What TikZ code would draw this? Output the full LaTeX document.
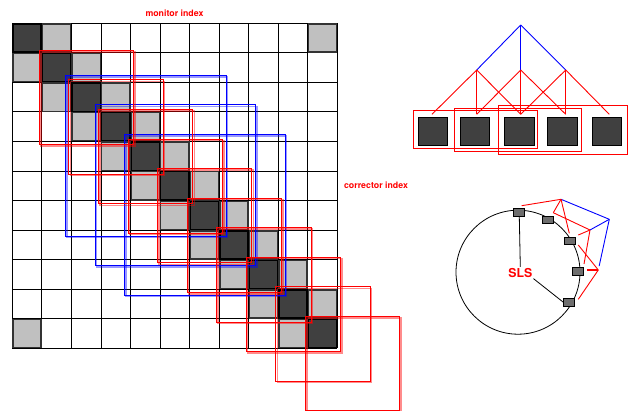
\documentclass[tikz,border=0pt]{standalone}
\usepackage{fontspec}
\setmainfont{TeX Gyre Heros}
\usetikzlibrary{calc}
\definecolor{darkfill}{HTML}{404040}
\definecolor{lightfill}{HTML}{C0C0C0}
\definecolor{ringbox}{HTML}{6E6E6E}
\begin{document}
\begin{tikzpicture}[x=1pt,y=-1pt,
  gridline/.style={draw=black, line width=0.9pt},
  darkcell/.style={fill=darkfill, draw=black, line width=1.4pt},
  lightcell/.style={fill=lightfill, draw=black!80, line width=1.4pt},
  redsq/.style={draw=red, line width=0.9pt},
  redsqb/.style={draw=red, opacity=0.45, line width=1.4pt},
  bluesq/.style={draw=blue, line width=0.9pt},
  bluesqb/.style={draw=blue, opacity=0.4, line width=1.4pt},
  lbl/.style={text=red, font=\bfseries\fontsize{8.8}{10}\selectfont, inner sep=0pt},
  bigl/.style={text=red, font=\bfseries\fontsize{12.3}{14}\selectfont, inner sep=1pt},
  tbox/.style={fill=darkfill, draw=black, line width=1pt, minimum width=29.4pt, minimum height=28.4pt, inner sep=0pt},
  rbox/.style={fill=ringbox, draw=black, line width=0.8pt, minimum width=11pt, minimum height=7.8pt, inner sep=0pt},
  redline/.style={draw=red, line width=0.9pt},
  blueline/.style={draw=blue, line width=0.9pt},
  blackline/.style={draw=black, line width=0.8pt}
]
\useasboundingbox (0,0) rectangle (628,411);
\fill[white] (0,0) rectangle (628,411);

\def\gx{12.3}
\def\gy{23.3}
\def\cs{29.55}

% grid lines
\foreach \k in {0,...,11} {
  \draw[gridline] ({\gx+\k*\cs},\gy) -- ({\gx+\k*\cs},{\gy+11*\cs});
  \draw[gridline] (\gx,{\gy+\k*\cs}) -- ({\gx+11*\cs},{\gy+\k*\cs});
}

% light cells
\foreach \i in {0,...,9} {
  \draw[lightcell] ({\gx+(\i+1)*\cs+0.7},{\gy+\i*\cs+0.7}) rectangle ++({\cs-1.4},{\cs-1.4});
  \draw[lightcell] ({\gx+\i*\cs+0.7},{\gy+(\i+1)*\cs+0.7}) rectangle ++({\cs-1.4},{\cs-1.4});
}
\draw[lightcell] ({\gx+10*\cs+0.7},{\gy+0.7}) rectangle ++({\cs-1.4},{\cs-1.4});
\draw[lightcell] ({\gx+0.7},{\gy+10*\cs+0.7}) rectangle ++({\cs-1.4},{\cs-1.4});
% dark cells
\foreach \i in {0,...,10} {
  \draw[darkcell] ({\gx+\i*\cs+0.7},{\gy+\i*\cs+0.7}) rectangle ++({\cs-1.4},{\cs-1.4});
}

% blue squares
\foreach \i in {2,3,4} {
  \draw[bluesqb] ({\gx+\i*\cs-4.5},{\gy+\i*\cs-5.5}) rectangle ++(160.7,160.7);
  \draw[bluesq] ({\gx+\i*\cs-6},{\gy+\i*\cs-7}) rectangle ++(160.7,160.7);
}
% red squares
\foreach \i in {1,...,10} {
  \draw[redsqb] ({\gx+\i*\cs-1},{\gy+\i*\cs-1}) rectangle ++(94.3,94.3);
  \draw[redsq] ({\gx+\i*\cs-2.5},{\gy+\i*\cs-2.5}) rectangle ++(94.3,94.3);
}

% labels
\node[lbl] (mon) at (174.5,13.3) {monitor index};
\node[lbl] (cor) at (376,185.3) {corrector index};

% tree (top right)
\coordinate (T) at (520.7,25);
\coordinate (m1) at (476.7,70);
\coordinate (m2) at (520.7,70);
\coordinate (m3) at (565.7,70);
\coordinate (p1) at (432,114.3);
\coordinate (p2) at (476.7,114.3);
\coordinate (p3) at (520.7,114.3);
\coordinate (p4) at (565.7,114.3);
\coordinate (p5) at (609.3,114.3);
\node[tbox] (b1) at (433,131.5) {};
\node[tbox] (b2) at (475,131.5) {};
\node[tbox] (b3) at (519.3,131.5) {};
\node[tbox] (b4) at (562.5,131.5) {};
\node[tbox] (b5) at (607,131.5) {};
\draw[redline] (413.3,110.7) rectangle (537.7,148.3);
\draw[redline] (454,108.3) rectangle (581.7,151.7);
\draw[redline] (498.7,105.3) rectangle (627.2,154.3);
\draw[blueline] (T) -- (m1);
\draw[blueline] (T) -- (m2);
\draw[blueline] (T) -- (m3);
\foreach \a/\b in {m1/p1,m1/p2,m1/p3,m2/p2,m2/p3,m2/p4,m3/p3,m3/p4,m3/p5} {
  \draw[redline] (\a) -- (\b);
}

% ring
\node[circle, draw=black, line width=0.8pt, minimum size=124pt, inner sep=0pt] (ring) at (518,272.2) {};
\node[rbox] (r1) at (519.3,212.7) {};
\node[rbox] (r2) at (548.3,220) {};
\node[rbox] (r3) at (570,241) {};
\node[rbox] (r4) at (578.3,271) {};
\node[rbox] (r5) at (569.3,302.3) {};
\node[bigl] (sls) at (520.3,272.8) {SLS};
\draw[blackline] (r1.south) -- (sls.north);
\draw[blackline] (sls.south east) -- (r5.west);

\coordinate (A) at (561,199.3);
\coordinate (B) at (590,230);
\coordinate (C) at (609.3,219.3);
\coordinate (D) at (598.3,270);
\coordinate (a1) at (521.7,205.7);
\coordinate (a2) at (553.3,212.7);
\coordinate (a3) at (569.3,233.3);
\coordinate (b3) at (578.3,235);
\coordinate (b4) at (584,264);
\coordinate (d3) at (578.3,245);
\coordinate (d4) at (587.3,270);
\coordinate (d5) at (578.3,299.3);
\draw[blueline] (C) -- (A);
\draw[blueline] (C) -- (B);
\draw[blueline, shorten >=4pt] (C) -- (D);
\foreach \a/\b in {A/a1,A/a2,A/a3,B/a2,B/b3,B/b4,D/d3,D/d5} {
  \draw[redline] (\a) -- (\b);
}
\draw[redline, line width=1.6pt] (D) -- (d4);
\end{tikzpicture}
\end{document}
